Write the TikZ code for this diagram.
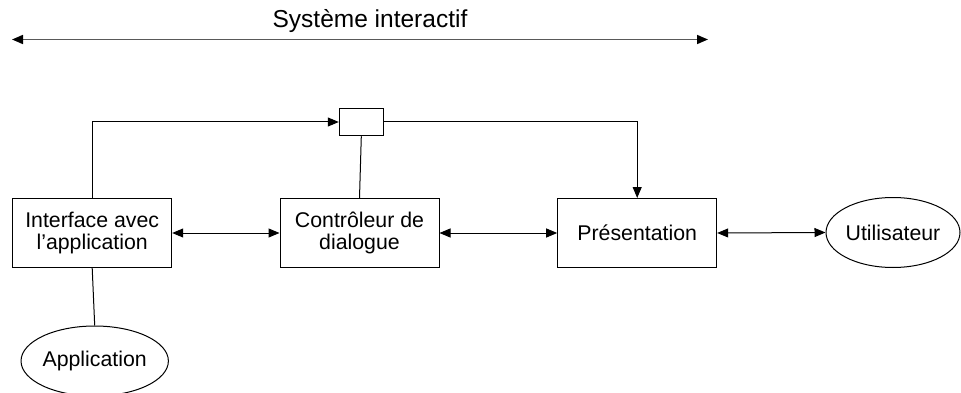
\documentclass[tikz,border=0pt]{standalone}
\usepackage{fontspec}
\setmainfont{Liberation Sans}
\usetikzlibrary{arrows.meta,shapes.geometric}
\begin{document}
\begin{tikzpicture}[x=1pt,y=-1pt,
  boxnode/.style={draw,line width=1pt,inner sep=0pt,minimum height=69pt,align=center,
    font=\fontsize{21.3}{22.5}\selectfont},
  ovalnode/.style={draw,ellipse,line width=1pt,inner sep=0pt,minimum height=70pt,
    font=\fontsize{21.3}{22.5}\selectfont},
  conn/.style={line width=1pt},
  tip/.style={-{Triangle[length=11pt,width=9pt]}},
  dtip/.style={{Triangle[length=11pt,width=9pt]}-{Triangle[length=11pt,width=9pt]}}]
\useasboundingbox (0,0) rectangle (961,393);
\clip (0,0) rectangle (961,393);
% title
\node[anchor=base,font=\fontsize{24.5}{28}\selectfont,inner sep=0pt] (title) at (370,28) {Système interactif};
\coordinate (sl) at (12,39.5);
\coordinate (sr) at (708,39.5);
\draw[line width=1.6pt,black!65,{Triangle[length=11pt,width=9pt,color=black]}-{Triangle[length=11pt,width=9pt,color=black]}] (sl) -- (sr);
% boxes
\node[boxnode,minimum width=159pt] (intf) at (92.2,233) {Interface avec\\l’application};
\node[boxnode,minimum width=159pt] (ctrl) at (359.5,233) {Contrôleur de\\dialogue};
\node[boxnode,minimum width=159pt] (pres) at (637.2,233) {Présentation};
\node[draw,line width=1pt,minimum width=44pt,minimum height=27.5pt,inner sep=0pt] (small) at (361.3,122) {};
\node[ovalnode,minimum width=134pt] (user) at (893,232.5) {Utilisateur};
\node[ovalnode,minimum width=144pt] (app) at (94.7,361) {Application};
% connectors
\draw[conn,tip] (intf.north) |- (small.west);
\draw[conn,tip] (small.east) -| (pres.north);
\draw[conn] (small.south) -- (ctrl.north);
\draw[conn] (intf.south) -- (app.north);
\draw[conn,dtip] (intf.east) -- (ctrl.west);
\draw[conn,dtip] (ctrl.east) -- (pres.west);
\draw[conn,dtip] (pres.east) -- (user.west);
\end{tikzpicture}
\end{document}
